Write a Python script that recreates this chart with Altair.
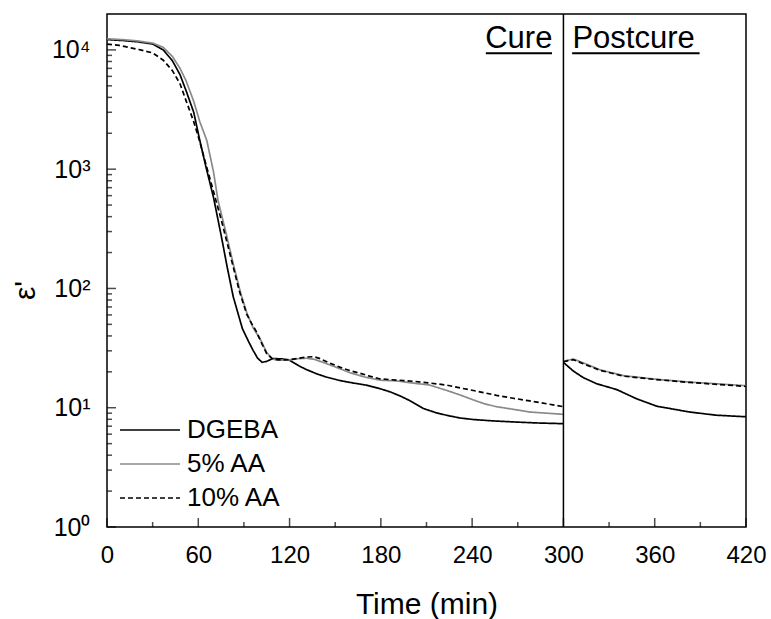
import altair as alt
import pandas as pd

# ---- data ----
series_names = ["DGEBA", "5% AA", "10% AA"]

# Cure stage (0-300 min)
t_dgeba_cure = [0, 10, 20, 30, 37, 43, 48, 52, 57, 61, 65, 70, 75, 79, 83, 89, 93, 96, 99, 102, 105, 109, 115, 120,
                126, 131, 138, 144, 153, 162, 170, 179, 186, 193, 200, 208, 216, 223, 232, 241, 254, 267, 283, 300]
e_dgeba_cure = [12200, 12000, 11700, 11200, 10000, 8100, 6200, 4540, 3000, 1740, 1050, 580, 280, 151, 85, 46, 36,
                30.3, 26, 24, 24.5, 25.8, 25.7, 25, 22.5, 20.9, 19.2, 18.1, 16.9, 16.1, 15.5, 14.5, 13.6, 12.5, 11.3,
                9.85, 9.1, 8.65, 8.2, 7.96, 7.75, 7.6, 7.45, 7.35]

t_aa5_cure = [0, 10, 20, 30, 37, 43, 48, 52, 57, 61, 65.6, 70, 73, 78, 83.5, 88, 92, 96, 101, 105, 109, 115, 120, 126,
              131, 136, 142, 150, 160, 170, 180, 190, 201, 212, 223, 232, 241, 248, 256, 267, 278, 289, 300]
e_aa5_cure = [12400, 12200, 11900, 11400, 10500, 8800, 7000, 5500, 3700, 2500, 1740, 950, 545, 300, 151, 90, 62, 47,
              37, 29, 25.5, 25, 25.2, 25.8, 26, 25.5, 24, 22, 19.6, 18, 17, 16.8, 16.1, 15.5, 14, 12.8, 11.6, 10.8,
              10.2, 9.7, 9.2, 9.0, 8.8]

t_aa10_cure = [0, 8, 15, 22, 30, 37, 43, 48, 52, 57, 61, 65, 70, 75, 79, 83, 87, 91.8, 95, 98.4, 102, 105, 109.3, 115,
               120, 126, 131, 136, 140, 146, 153, 160, 166, 172, 179, 186, 195, 205, 212, 223, 234, 245, 256, 267, 278,
               289, 300]
e_aa10_cure = [11200, 10900, 10450, 10000, 9440, 8200, 6700, 5200, 3740, 2500, 1700, 1100, 650, 380, 240, 151, 95, 61,
               51, 43, 34, 28.4, 25.3, 25.2, 25.3, 26, 26.6, 26.8, 25.8, 23.8, 21.9, 20.4, 19.5, 18.5, 17.5, 17.2,
               16.9, 16.5, 16.1, 15.5, 14.5, 13.6, 12.7, 12.0, 11.4, 10.8, 10.2]

# Postcure stage (300-420 min)
t_dgeba_post = [300, 306.5, 313, 321.8, 335, 348, 361.3, 383, 400.7, 420]
e_dgeba_post = [24, 20.3, 17.9, 15.9, 14.2, 11.9, 10.3, 9.2, 8.65, 8.4]

t_aa5_post = [300, 306.5, 313, 324, 339.4, 361.3, 383, 420]
e_aa5_post = [24.5, 25.6, 23.8, 20.8, 18.6, 17.3, 16.4, 15.3]

t_aa10_post = [300, 306.5, 313, 324, 339.4, 361.3, 383, 420]
e_aa10_post = [24.3, 25.3, 23.4, 20.6, 18.4, 17.2, 16.3, 15.1]

x_major = [0, 60, 120, 180, 240, 300, 360, 420]
x_minor = [30, 90, 150, 210, 270, 330, 390]
y_major = [1, 10, 100, 1000, 10000]
y_minor = [m * 10 ** k for k in range(0, 4) for m in range(2, 10)]

stage_boundary = [300]
ann_labels = ["Cure", "Postcure"]

# ---- build tables ----
rows = []
for name, phase, ts, es in [
    ("DGEBA", "cure", t_dgeba_cure, e_dgeba_cure),
    ("5% AA", "cure", t_aa5_cure, e_aa5_cure),
    ("10% AA", "cure", t_aa10_cure, e_aa10_cure),
    ("DGEBA", "post", t_dgeba_post, e_dgeba_post),
    ("5% AA", "post", t_aa5_post, e_aa5_post),
    ("10% AA", "post", t_aa10_post, e_aa10_post),
]:
    for i, (t, e) in enumerate(zip(ts, es)):
        rows.append({"series": name, "phase": phase, "t": t, "eps": e, "i": i})
df = pd.DataFrame(rows)

FONT = "Liberation Sans"
W, H = 639, 513
MAJ, MIN = 9, 5  # tick lengths

x_scale = alt.Scale(domain=[0, 420], nice=False, zero=False)
y_scale = alt.Scale(type="log", domain=[1, 20000], nice=False)

y_label_expr = ("datum.value == 1 ? '10\u2070' : datum.value == 10 ? '10\u00b9' : "
                "datum.value == 100 ? '10\u00b2' : datum.value == 1000 ? '10\u00b3' : "
                "datum.value == 10000 ? '10\u2074' : ''")

x_axis = alt.Axis(
    orient="bottom", values=x_major, ticks=False, domain=False, grid=False,
    labelOverlap=False, labelFlush=False, labelFontSize=24, labelPadding=16, labelColor="black",
    title="Time (min)", titleFontSize=30, titleFontWeight="normal", titleColor="black",
    titleX=319.5, titleY=86, titleAnchor="middle", titleBaseline="alphabetic",
)
y_axis = alt.Axis(
    orient="left", values=y_major, labelExpr=y_label_expr, ticks=False, domain=False, grid=False,
    labelOverlap=False, labelFlush=False, labelFontSize=25, labelPadding=17, labelBound=False,
    labelColor="black",
    title="\u03b5'", titleFontSize=30, titleFontWeight="normal", titleColor="black",
    titleX=-82, titleY=276, titleAngle=270, titleBaseline="middle", titleAlign="center",
)

color_scale = alt.Scale(domain=series_names, range=["#000000", "#8a8a8a", "#000000"])
dash_scale = alt.Scale(domain=series_names, range=[[1, 0], [1, 0], [5, 3]])

lines = alt.Chart(df).mark_line(strokeWidth=1.7).encode(
    x=alt.X("t:Q", scale=x_scale, axis=x_axis),
    y=alt.Y("eps:Q", scale=y_scale, axis=y_axis),
    color=alt.Color("series:N", scale=color_scale, legend=alt.Legend(title=None)),
    strokeDash=alt.StrokeDash("series:N", scale=dash_scale, legend=alt.Legend(title=None)),
    detail="phase:N",
    order="i:Q",
)

# tick marks along the bottom and left edges (drawn just inside the frame)
def xticks(vals, length):
    return alt.Chart(pd.DataFrame({"t": vals})).mark_tick(
        color="black", thickness=1.5, orient="vertical", size=length
    ).encode(x=alt.X("t:Q", scale=x_scale), y=alt.value(H - length / 2))

def yticks(vals, length):
    return alt.Chart(pd.DataFrame({"eps": vals})).mark_tick(
        color="black", thickness=1.5, orient="horizontal", size=length
    ).encode(y=alt.Y("eps:Q", scale=y_scale), x=alt.value(length / 2))

boundary = alt.Chart(pd.DataFrame({"t": stage_boundary})).mark_rule(
    color="black", strokeWidth=1.5
).encode(x=alt.X("t:Q", scale=x_scale))

ann = pd.DataFrame({"label": ann_labels, "t": [300, 300], "eps": [10300, 10300],
                    "u0": [249.0, 305.7], "u1": [292.5, 389.5], "ueps": [9380, 9380]})

cure_txt = alt.Chart(ann[ann.label == "Cure"]).mark_text(
    align="right", baseline="alphabetic", dx=-11, fontSize=31, font=FONT, color="black"
).encode(x=alt.X("t:Q", scale=x_scale), y=alt.Y("eps:Q", scale=y_scale), text="label:N")

post_txt = alt.Chart(ann[ann.label == "Postcure"]).mark_text(
    align="left", baseline="alphabetic", dx=9, fontSize=31, font=FONT, color="black"
).encode(x=alt.X("t:Q", scale=x_scale), y=alt.Y("eps:Q", scale=y_scale), text="label:N")

underline = alt.Chart(ann).mark_rule(color="black", strokeWidth=2).encode(
    x=alt.X("u0:Q", scale=x_scale), x2="u1:Q", y=alt.Y("ueps:Q", scale=y_scale)
)

chart = alt.layer(
    lines,
    xticks(x_major, MAJ), xticks(x_minor, MIN),
    yticks(y_major, MAJ), yticks(y_minor, MIN),
    boundary, cure_txt, post_txt, underline
).properties(
    width=W, height=H,
    autosize=alt.AutoSizeParams(type="none"),
    padding={"left": 107, "top": 14, "right": 25, "bottom": 92},
).configure(
    font=FONT,
    background="white",
).configure_view(
    stroke="black", strokeWidth=1.5
).configure_axis(
    labelFont=FONT, titleFont=FONT,
).configure_legend(
    orient="none", legendX=10, legendY=403, direction="vertical",
    symbolType="M-1,0L5,0", symbolSize=400, symbolStrokeWidth=1.7,
    labelFontSize=26, labelFont=FONT, labelColor="black", labelOffset=44,
    rowPadding=8, padding=0, labelLimit=300,
)

chart.save("out.html", embed_options={"renderer": "svg", "actions": False})
